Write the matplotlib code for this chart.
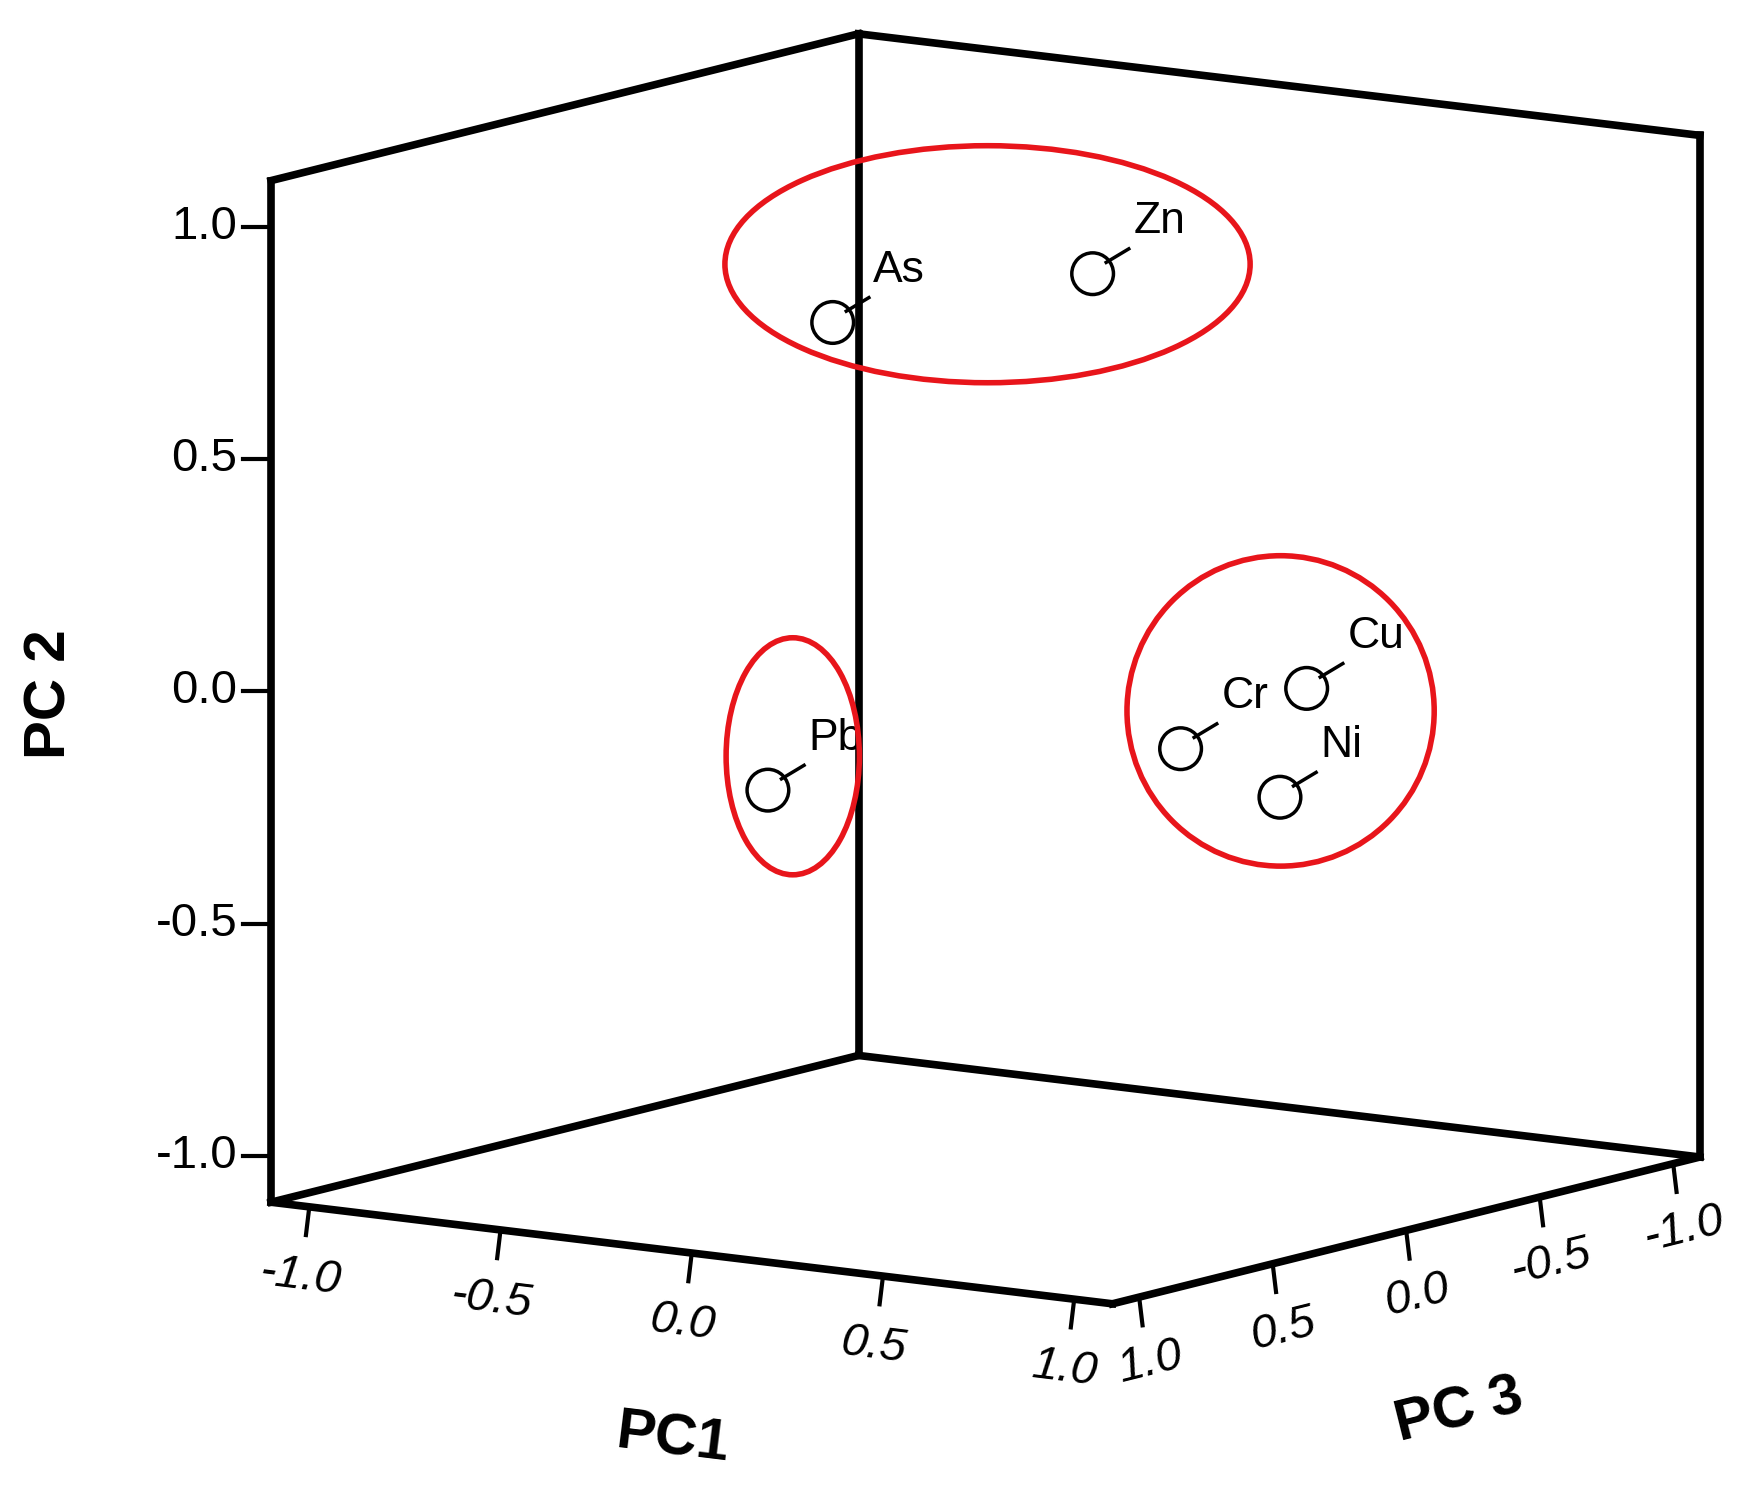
import numpy as np
import matplotlib.pyplot as plt
from matplotlib.patches import Ellipse

# loadings (PC1, PC2, PC3)
elements = ["As", "Zn", "Pb", "Cr", "Cu", "Ni"]
pc1 = [-0.19, 0.35, -0.15, 0.58, 0.77, 0.77]
pc2 = [0.77, 0.90, -0.19, -0.10, 0.02, -0.20]
pc3 = [0.30, 0.10, 0.60, 0.10, -0.10, 0.00]
groups = [["As", "Zn"], ["Pb"], ["Cr", "Cu", "Ni"]]
ticks = [-1.0, -0.5, 0.0, 0.5, 1.0]
lo, hi = -1.1, 1.1

# oblique projection of the SPSS 3D box into the canvas space
ORIGIN = np.array([872.5, 592.5])
V1 = np.array([338.6, 40.9])
V2 = np.array([0.0, -411.4])
V3 = np.array([-236.4, 59.1])


def project(p1, p2, p3):
    return ORIGIN + np.multiply.outer(p1, V1) + np.multiply.outer(p2, V2) + np.multiply.outer(p3, V3)


plt.rcParams["font.family"] = ["Liberation Sans", "DejaVu Sans"]
fig = plt.figure(figsize=(17.62, 14.90), dpi=100)
ax = fig.add_axes([0, 0, 1, 1])
ax.set_xlim(0, 1560)
ax.set_ylim(1320, 0)
ax.axis("off")

lw = 5.5
edges = [
    ((lo, lo, hi), (hi, lo, hi)),   # PC1 axis
    ((hi, lo, hi), (hi, lo, lo)),   # PC3 axis
    ((lo, lo, hi), (lo, lo, lo)),
    ((lo, lo, lo), (hi, lo, lo)),
    ((lo, lo, hi), (lo, hi, hi)),   # PC2 axis
    ((lo, lo, lo), (lo, hi, lo)),
    ((hi, lo, lo), (hi, hi, lo)),
    ((lo, hi, hi), (lo, hi, lo)),
    ((lo, hi, lo), (hi, hi, lo)),
]
for a, b in edges:
    pa, pb = project(*a), project(*b)
    ax.plot([pa[0], pb[0]], [pa[1], pb[1]], color="black", lw=lw, solid_capstyle="projecting", zorder=2)

tick_fs = 34
for t in ticks:
    # PC2 on left front edge
    p = project(lo, t, hi)
    ax.plot([p[0], p[0] - 25], [p[1], p[1]], color="black", lw=3)
    ax.text(p[0] - 30, p[1], f"{t:.1f}", ha="right", va="center", fontsize=tick_fs)
    # PC1 along front-left bottom edge
    p = project(t, lo, hi)
    ax.plot([p[0], p[0] - 3], [p[1], p[1] + 25], color="black", lw=3)
    ax.text(p[0] - 8, p[1] + 62, f"{t:.1f}", ha="center", va="center", fontsize=tick_fs,
            style="italic", rotation=-7)
    # PC3 along front-right bottom edge
    p = project(hi, lo, t)
    ax.plot([p[0], p[0] + 3], [p[1], p[1] + 25], color="black", lw=3)
    ax.text(p[0] + 10, p[1] + 58, f"{t:.1f}", ha="center", va="center", fontsize=tick_fs,
            style="italic", rotation=14)

ax.text(45, 615, "PC 2", rotation=90, ha="center", va="center", fontsize=42, fontweight="bold")
ax.text(595, 1275, "PC1", rotation=-7, ha="center", va="center", fontsize=42, fontweight="bold")
ax.text(1292, 1250, "PC 3", rotation=14, ha="center", va="center", fontsize=42, fontweight="bold")

pts = project(np.array(pc1), np.array(pc2), np.array(pc3))
ax.scatter(pts[:, 0], pts[:, 1], s=900, facecolors="none", edgecolors="black", linewidths=2.5, zorder=3)
for name, (x, y) in zip(elements, pts):
    ax.plot([x + 12, x + 32], [y - 10, y - 22], color="black", lw=2.5, zorder=3)
    ax.text(x + 36, y - 28, name, ha="left", va="bottom", fontsize=32, zorder=3)

# cluster outlines centred on projected group means
sizes = {"As": (465, 210), "Pb": (118, 210), "Cr": (272, 275)}
for g in groups:
    idx = [elements.index(e) for e in g]
    cx, cy = pts[idx].mean(axis=0)
    w, h = sizes[g[0]]
    ax.add_patch(Ellipse((cx + 22, cy - 30), w, h, fill=False, edgecolor="#e8151b", lw=4, zorder=4))

fig.savefig("out.png", dpi=100)
